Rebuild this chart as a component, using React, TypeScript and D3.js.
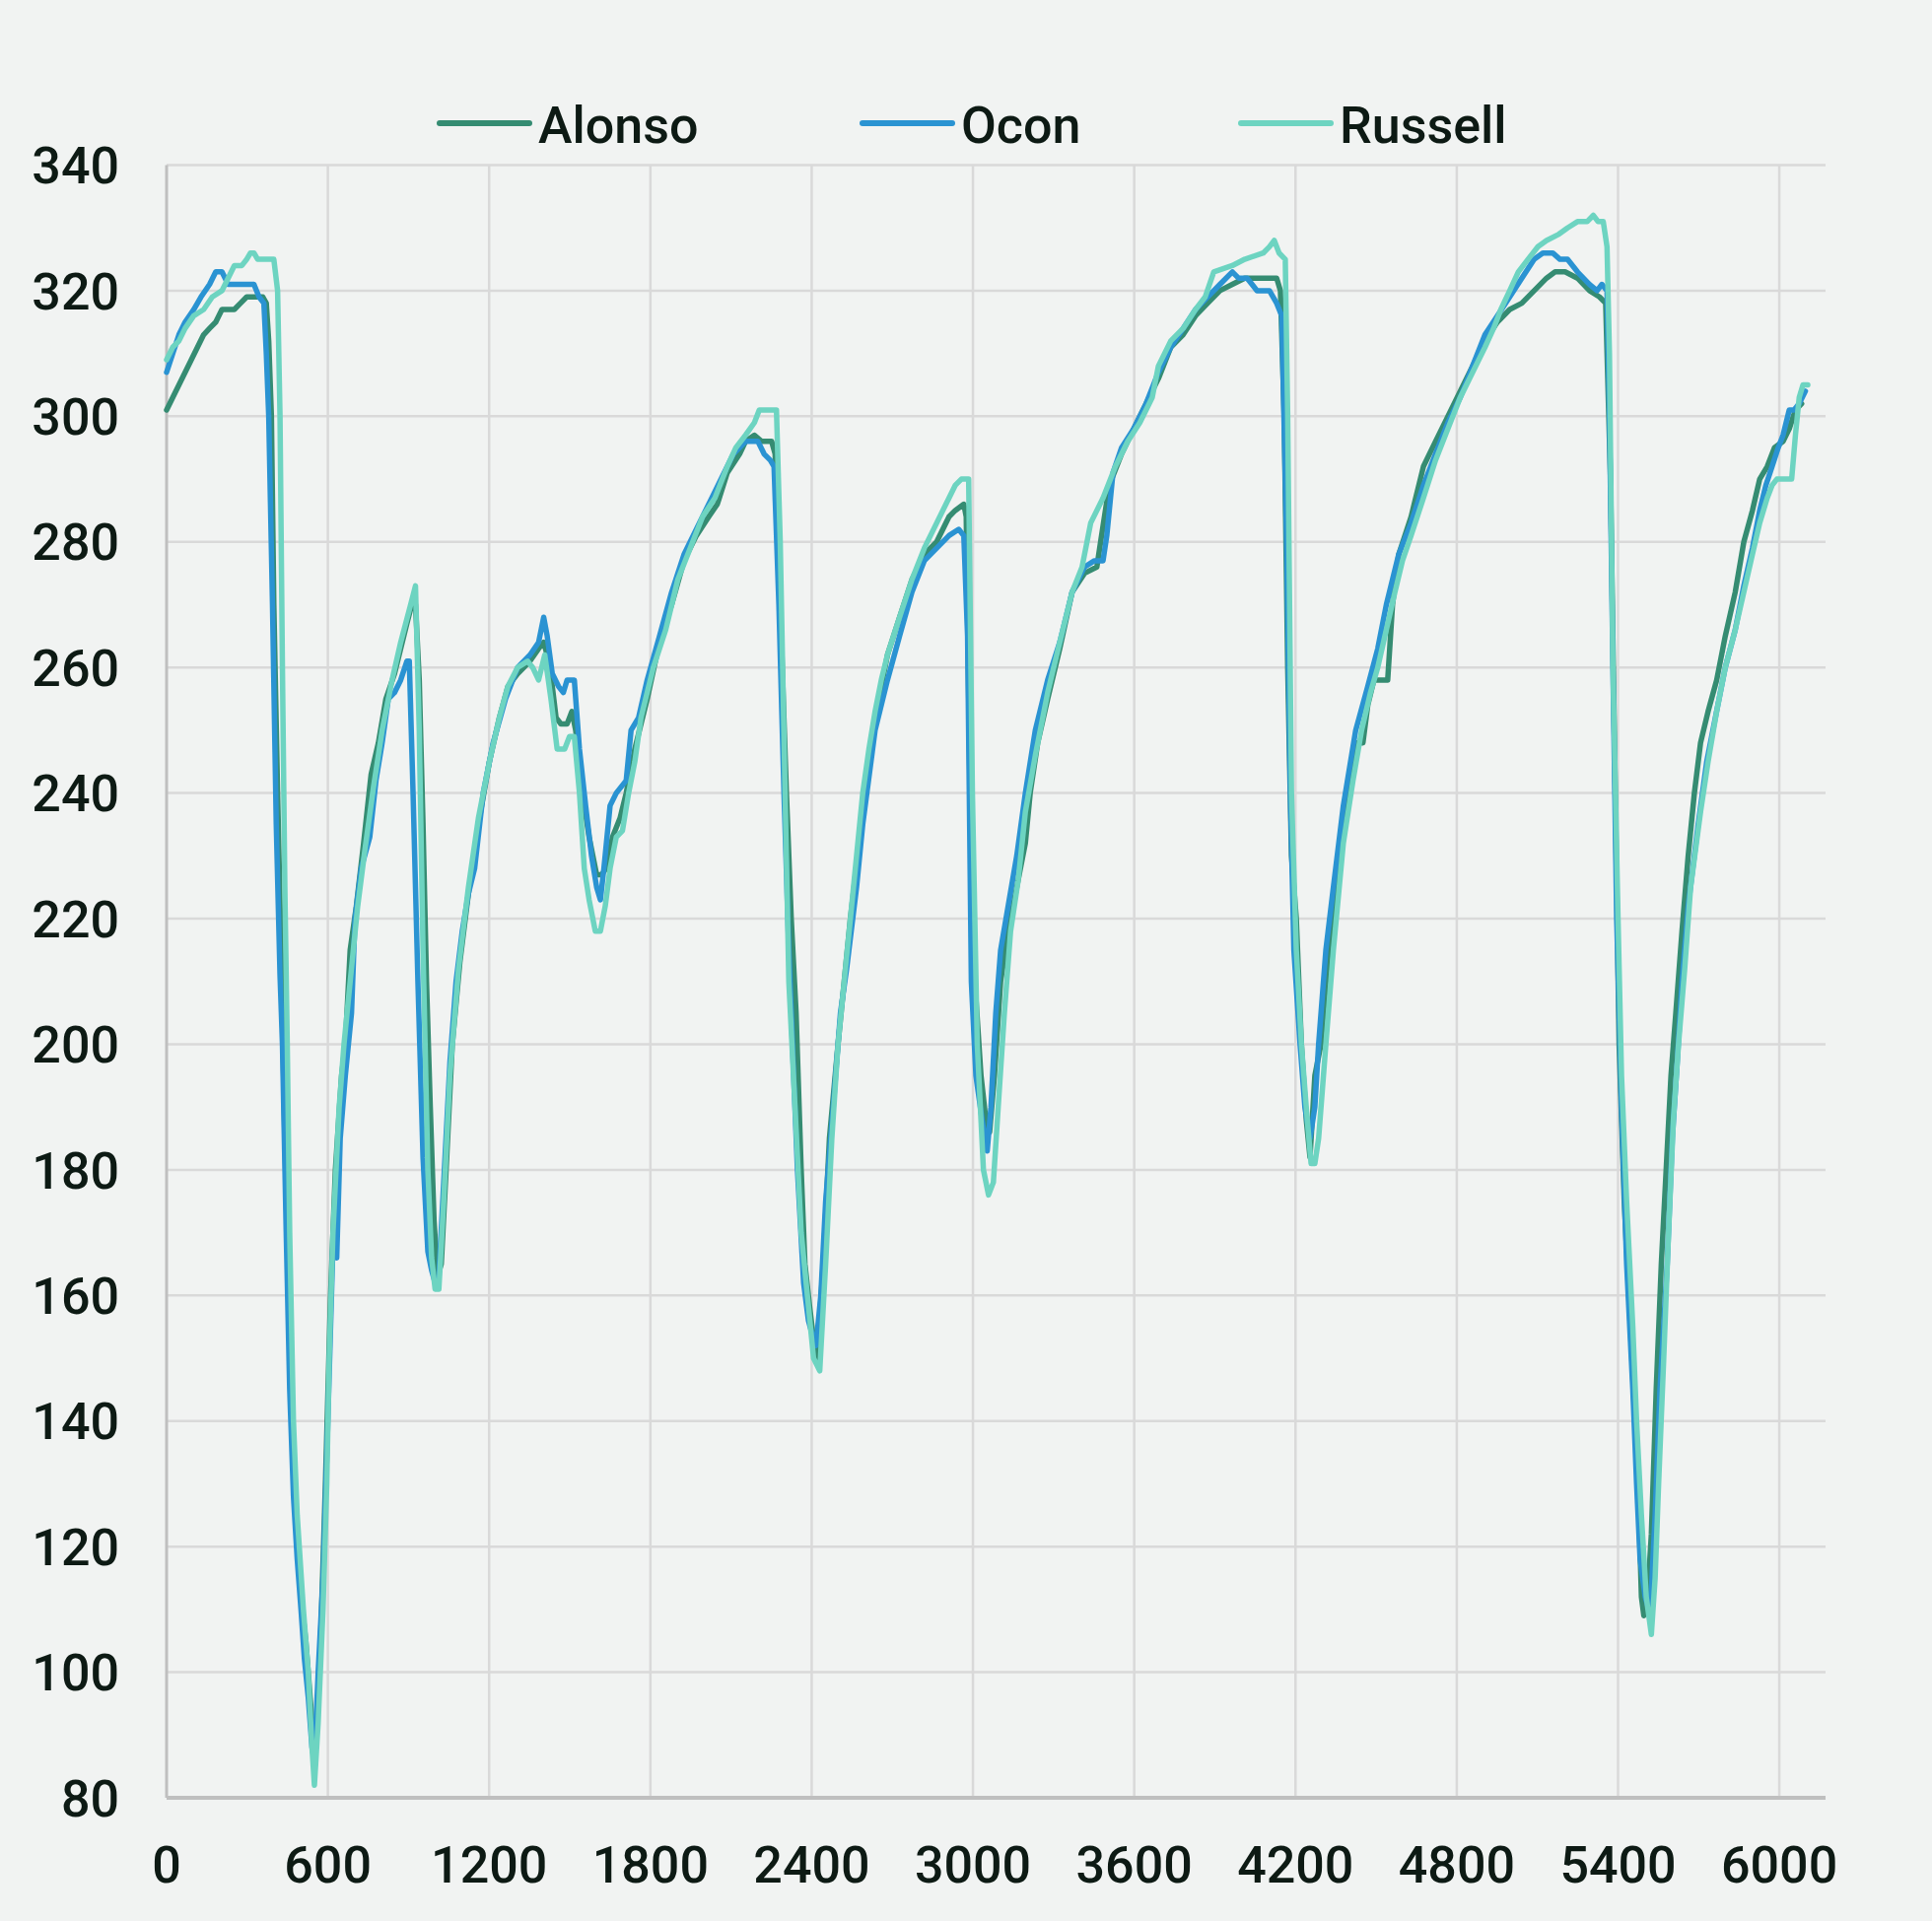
import React from "react";
import * as d3 from "d3";

const drivers = ["Alonso", "Ocon", "Russell"];
const colors = ["#358c72", "#2a93d2", "#6dd4c1"];

const xTicks = [0, 600, 1200, 1800, 2400, 3000, 3600, 4200, 4800, 5400, 6000];
const yTicks = [80, 100, 120, 140, 160, 180, 200, 220, 240, 260, 280, 300, 320, 340];

const alonso: [number, number][] = [
  [0,301],[23,303],[46,305],[69,307],[92,309],[115,311],[138,313],[160,314],[183,315],[206,317],[252,317],[275,318],[298,319],[321,319],[358,319],[371,318],[380,312],[390,300],[399,270],[413,240],[426,215],[440,185],[454,160],[468,140],[481,125],[500,112],[518,105],[536,95],[550,86],[559,92],[573,105],[591,130],[610,160],[628,180],[651,195],[665,200],[683,215],[706,222],[733,232],[761,243],[788,248],[816,255],[848,259],[871,263],[894,267],[912,270],[926,270],[940,258],[954,235],[967,210],[981,190],[995,172],[1008,163],[1022,165],[1040,180],[1063,200],[1091,213],[1123,224],[1160,235],[1201,245],[1238,252],[1270,257],[1306,259],[1352,261],[1384,263],[1403,264],[1416,262],[1435,257],[1449,252],[1467,251],[1490,251],[1508,253],[1522,250],[1536,245],[1554,238],[1572,233],[1600,227],[1618,227],[1636,228],[1659,233],[1687,236],[1710,240],[1742,247],[1788,255],[1834,264],[1879,270],[1925,277],[1971,281],[2017,284],[2049,286],[2086,291],[2132,294],[2154,296],[2187,297],[2214,296],[2251,296],[2264,294],[2283,270],[2306,240],[2324,220],[2342,205],[2361,180],[2375,165],[2393,158],[2407,153],[2420,150],[2443,165],[2466,185],[2498,200],[2521,210],[2544,220],[2590,237],[2636,252],[2682,262],[2727,268],[2773,274],[2819,278],[2865,280],[2888,282],[2911,284],[2934,285],[2966,286],[2975,284],[2989,240],[3007,210],[3030,195],[3048,188],[3062,186],[3080,195],[3103,210],[3131,218],[3163,225],[3195,232],[3213,240],[3241,248],[3278,255],[3323,263],[3369,272],[3415,275],[3461,276],[3475,280],[3507,289],[3553,294],[3598,298],[3644,302],[3690,306],[3736,311],[3782,313],[3828,316],[3873,318],[3919,320],[3965,321],[4011,322],[4057,322],[4130,322],[4144,320],[4158,300],[4171,260],[4185,230],[4203,220],[4222,200],[4240,188],[4254,182],[4272,195],[4295,200],[4323,215],[4355,228],[4387,238],[4424,248],[4451,248],[4469,254],[4492,258],[4543,258],[4561,270],[4584,278],[4630,284],[4676,292],[4721,296],[4767,300],[4813,304],[4859,308],[4905,312],[4951,315],[4997,317],[5042,318],[5088,320],[5134,322],[5166,323],[5203,323],[5249,322],[5294,320],[5331,319],[5354,318],[5372,290],[5386,250],[5404,200],[5423,175],[5446,155],[5463,140],[5478,125],[5487,112],[5496,109],[5510,112],[5524,122],[5542,145],[5561,165],[5579,180],[5597,195],[5615,205],[5638,218],[5661,230],[5684,240],[5707,248],[5735,253],[5767,258],[5799,265],[5836,272],[5868,280],[5900,285],[5927,290],[5955,292],[5982,295],[6014,296],[6037,298],[6060,301],[6083,302]
];

const ocon: [number, number][] = [
  [0,307],[23,310],[46,313],[69,315],[101,317],[128,319],[160,321],[183,323],[206,323],[229,321],[298,321],[325,321],[344,319],[362,318],[371,310],[380,300],[394,270],[408,235],[422,211],[431,200],[445,170],[458,145],[472,128],[486,118],[500,110],[513,102],[527,96],[541,88],[550,86],[564,100],[582,115],[600,140],[619,168],[633,166],[646,185],[665,195],[688,205],[701,220],[724,228],[756,233],[779,242],[802,248],[825,255],[848,256],[871,258],[894,261],[903,261],[917,240],[935,210],[954,182],[972,167],[986,164],[999,162],[1013,163],[1031,178],[1054,197],[1077,210],[1100,218],[1123,224],[1146,228],[1178,240],[1215,248],[1261,255],[1306,260],[1352,262],[1384,264],[1403,268],[1416,265],[1435,259],[1458,257],[1476,256],[1490,258],[1517,258],[1536,247],[1559,238],[1581,230],[1600,225],[1614,223],[1627,228],[1650,238],[1673,240],[1710,242],[1728,250],[1756,252],[1788,258],[1834,265],[1879,272],[1925,278],[1971,282],[2017,286],[2063,290],[2109,294],[2154,296],[2200,296],[2223,294],[2246,293],[2260,292],[2278,270],[2297,240],[2315,215],[2333,195],[2347,180],[2370,162],[2388,156],[2407,153],[2416,152],[2434,160],[2452,175],[2480,190],[2507,205],[2530,212],[2567,225],[2590,235],[2636,250],[2682,258],[2727,265],[2773,272],[2819,277],[2865,279],[2911,281],[2947,282],[2966,281],[2980,265],[2994,210],[3011,195],[3034,188],[3053,183],[3067,190],[3085,205],[3103,215],[3131,222],[3163,230],[3195,240],[3232,250],[3278,258],[3323,264],[3369,272],[3415,276],[3452,277],[3484,277],[3498,281],[3521,291],[3553,295],[3598,298],[3644,302],[3690,307],[3736,311],[3782,314],[3828,317],[3873,319],[3919,321],[3965,323],[3988,322],[4020,322],[4057,320],[4103,320],[4130,318],[4149,316],[4167,280],[4181,240],[4194,215],[4217,200],[4235,190],[4254,185],[4272,190],[4286,200],[4313,215],[4341,225],[4378,238],[4424,250],[4469,257],[4506,263],[4538,270],[4584,278],[4630,283],[4676,289],[4721,294],[4767,299],[4813,303],[4859,308],[4905,313],[4951,316],[4997,319],[5042,322],[5088,325],[5120,326],[5157,326],[5184,325],[5212,325],[5249,323],[5294,321],[5322,320],[5340,321],[5359,320],[5368,300],[5381,260],[5395,220],[5413,190],[5432,165],[5455,145],[5469,130],[5482,118],[5501,112],[5514,110],[5524,113],[5538,125],[5556,145],[5583,165],[5602,185],[5620,197],[5638,210],[5661,222],[5698,235],[5730,245],[5762,252],[5799,260],[5836,266],[5868,273],[5900,279],[5927,285],[5950,289],[5973,292],[5996,295],[6014,297],[6037,301],[6055,301],[6074,302],[6097,304]
];

const russell: [number, number][] = [
  [0,309],[23,311],[46,312],[69,314],[101,316],[138,317],[170,319],[206,320],[229,322],[252,324],[280,324],[298,325],[312,326],[325,326],[339,325],[367,325],[399,325],[413,320],[422,300],[431,260],[440,225],[449,200],[458,170],[472,140],[486,125],[509,110],[527,100],[541,88],[550,82],[564,92],[582,110],[596,130],[605,150],[619,170],[642,190],[660,200],[683,210],[711,222],[738,231],[770,241],[802,250],[839,258],[871,264],[908,270],[926,273],[940,250],[954,215],[972,180],[986,166],[999,161],[1013,161],[1031,175],[1054,195],[1086,212],[1123,225],[1160,236],[1201,245],[1238,252],[1270,257],[1306,260],[1343,261],[1362,260],[1384,258],[1407,262],[1430,255],[1453,247],[1481,247],[1499,249],[1517,249],[1536,240],[1554,228],[1572,223],[1595,218],[1614,218],[1632,222],[1650,228],[1673,233],[1696,234],[1719,240],[1742,245],[1765,252],[1811,260],[1857,266],[1902,274],[1948,279],[1994,284],[2040,287],[2086,292],[2118,295],[2154,297],[2187,299],[2205,301],[2269,301],[2283,280],[2301,240],[2315,210],[2338,190],[2361,170],[2384,160],[2407,150],[2430,148],[2452,165],[2475,185],[2498,200],[2521,210],[2544,220],[2567,230],[2590,240],[2613,247],[2636,253],[2659,258],[2682,262],[2727,268],[2773,274],[2819,279],[2865,283],[2911,287],[2934,289],[2957,290],[2984,290],[2998,240],[3016,200],[3039,180],[3058,176],[3076,178],[3094,190],[3117,205],[3140,218],[3168,226],[3195,237],[3232,246],[3278,256],[3323,264],[3369,272],[3406,276],[3438,283],[3484,287],[3530,292],[3576,296],[3621,299],[3667,303],[3690,308],[3736,312],[3782,314],[3828,317],[3864,319],[3896,323],[3965,324],[4011,325],[4080,326],[4103,327],[4121,328],[4139,326],[4162,325],[4171,300],[4185,240],[4203,215],[4222,200],[4240,190],[4258,181],[4272,181],[4286,185],[4313,200],[4341,215],[4378,232],[4414,242],[4446,250],[4479,256],[4506,260],[4538,266],[4570,272],[4598,277],[4630,281],[4676,287],[4721,293],[4767,298],[4813,303],[4859,307],[4905,311],[4937,314],[4964,317],[4997,320],[5029,323],[5065,325],[5102,327],[5134,328],[5180,329],[5212,330],[5249,331],[5285,331],[5308,332],[5326,331],[5345,331],[5359,327],[5368,310],[5381,260],[5400,220],[5413,195],[5432,175],[5455,155],[5469,140],[5487,125],[5505,112],[5524,106],[5538,115],[5551,130],[5570,150],[5588,170],[5606,188],[5625,200],[5648,212],[5670,225],[5707,237],[5735,245],[5767,253],[5799,260],[5836,266],[5868,272],[5900,278],[5927,283],[5955,287],[5973,289],[5991,290],[6046,290],[6060,297],[6074,303],[6088,305],[6106,305]
];

const seriesData = [alonso, ocon, russell];

const W = 1960;
const H = 1949;
const xMax = 6172;

export default function App() {
  const x = d3.scaleLinear().domain([0, xMax]).range([169, 1852]);
  const y = d3.scaleLinear().domain([80, 340]).range([1824, 167.5]);
  const line = d3
    .line<[number, number]>()
    .x((d) => x(d[0]))
    .y((d) => y(d[1]))
    .curve(d3.curveLinear);

  const font = "Roboto, 'Open Sans', sans-serif";
  const legendX = [446, 875, 1259];
  const fs = 52;

  return (
    <svg
      width={W}
      height={H}
      style={{ position: "absolute", left: 0, top: 0, display: "block" }}
    >
      <rect x={0} y={0} width={W} height={H} fill="#f1f3f2" />
      {yTicks.map((t) => (
        <line
          key={"h" + t}
          x1={x(0)}
          x2={x(xMax)}
          y1={y(t)}
          y2={y(t)}
          stroke="#d9d9d9"
          strokeWidth={2.5}
        />
      ))}
      {xTicks.map((t) => (
        <line
          key={"v" + t}
          x1={x(t)}
          x2={x(t)}
          y1={y(340)}
          y2={y(80)}
          stroke={t === 0 ? "#bfbfbf" : "#d9d9d9"}
          strokeWidth={t === 0 ? 3 : 2.5}
        />
      ))}
      <line x1={x(0)} x2={x(xMax)} y1={y(80)} y2={y(80)} stroke="#bfbfbf" strokeWidth={4} />

      {seriesData.map((d, i) => (
        <path
          key={drivers[i]}
          d={line(d) || ""}
          fill="none"
          stroke={colors[i]}
          strokeWidth={5.5}
          strokeLinejoin="round"
          strokeLinecap="round"
        />
      ))}

      {yTicks.map((t) => (
        <text
          key={"yl" + t}
          x={121}
          y={y(t)}
          dy="0.36em"
          textAnchor="end"
          fontFamily={font}
          fontSize={fs}
          fontWeight={500}
          fill="#0d1a14"
        >
          {t}
        </text>
      ))}
      {xTicks.map((t) => (
        <text
          key={"xl" + t}
          x={x(t)}
          y={1891}
          dy="0.36em"
          textAnchor="middle"
          fontFamily={font}
          fontSize={fs}
          fontWeight={500}
          fill="#0d1a14"
        >
          {t}
        </text>
      ))}

      {drivers.map((name, i) => (
        <g key={"lg" + name}>
          <line
            x1={legendX[i]}
            x2={legendX[i] + 91}
            y1={125}
            y2={125}
            stroke={colors[i]}
            strokeWidth={6}
            strokeLinecap="round"
          />
          <text
            x={legendX[i] + 100}
            y={126}
            dy="0.36em"
            fontFamily={font}
            fontSize={fs}
            fontWeight={500}
            fill="#0d1a14"
          >
            {name}
          </text>
        </g>
      ))}
    </svg>
  );
}
